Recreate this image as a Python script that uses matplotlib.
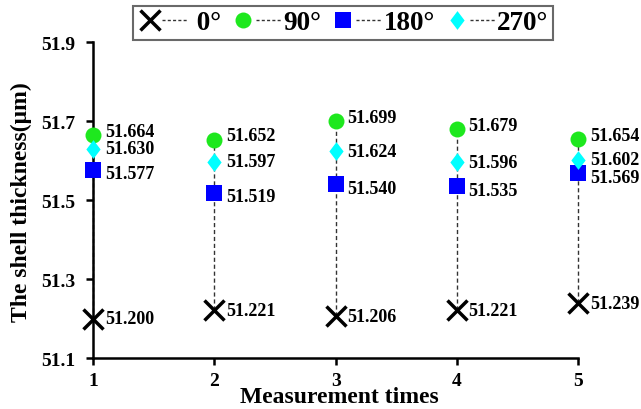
import matplotlib
matplotlib.use("Agg")
import matplotlib.pyplot as plt
from matplotlib.lines import Line2D
from matplotlib.legend_handler import HandlerTuple

# measurement data
times = [1, 2, 3, 4, 5]
deg0 = [51.200, 51.221, 51.206, 51.221, 51.239]
deg90 = [51.664, 51.652, 51.699, 51.679, 51.654]
deg180 = [51.577, 51.519, 51.540, 51.535, 51.569]
deg270 = [51.630, 51.597, 51.624, 51.596, 51.602]
yticks = [51.1, 51.3, 51.5, 51.7, 51.9]

plt.rcParams["font.family"] = ["Liberation Serif", "DejaVu Serif"]
plt.rcParams["font.weight"] = "bold"

fig = plt.figure(figsize=(6.41, 4.10), dpi=100)
ax = fig.add_axes([0.145, 0.124, 0.757, 0.771])

# drop lines between lowest and highest value
lows = [min(v) for v in zip(deg0, deg90, deg180, deg270)]
highs = [max(v) for v in zip(deg0, deg90, deg180, deg270)]
ax.vlines(times, lows, highs, colors="#333333", linestyles=(0, (3, 2)), lw=1,
          zorder=1, clip_on=False)

diamond = [(0, 1), (0.76, 0), (0, -1), (-0.76, 0), (0, 1)]
# (values, legend label, marker style, vertical nudge of the value labels in pt)
series = [
    (deg0, " 0°", dict(marker="x", color="black", ms=14, mew=2.5), 0),
    (deg90, "90°", dict(marker="o", color="#1ee81e", ms=11.5, mew=0), 3),
    (deg180, "180°", dict(marker="s", color="#0000ff", ms=11.5, mew=0), -3),
    (deg270, "270°", dict(marker=diamond, color="#00ffff", ms=13.5, mew=0), 0),
]

handles = []
labels = []
for vals, name, st, dy in series:
    ax.plot(times, vals, linestyle="none", zorder=3, clip_on=False, **st)
    for xv, yv in zip(times, vals):
        ax.annotate(f"{yv:.3f}", (xv, yv), xytext=(8.5, dy), textcoords="offset points",
                    ha="left", va="center", fontsize=13, fontweight="bold")
    h_mark = Line2D([], [], linestyle="none", **st)
    h_line = Line2D([], [], color="#333333", lw=1, linestyle=(0, (2.2, 1.6)))
    handles.append((h_mark, h_line))
    labels.append(name)

ax.set_xlim(1, 5)
ax.set_ylim(51.1, 51.9)
ax.set_xticks(times)
ax.set_yticks(yticks)
ax.set_yticklabels([f"{t:.1f}" for t in yticks])
ax.spines["top"].set_visible(False)
ax.spines["right"].set_visible(False)
for s in ["left", "bottom"]:
    ax.spines[s].set_linewidth(1.8)
ax.tick_params(direction="out", length=5, width=1.8, labelsize=14)
ax.tick_params(axis="y", pad=8)
ax.tick_params(axis="x", pad=5)
plt.setp(ax.get_xticklabels() + ax.get_yticklabels(), fontweight="bold")

ax.set_xlabel("Measurement times", fontsize=17, fontweight="bold")
ax.xaxis.set_label_coords(0.507, -0.12)
ax.xaxis.label.set_va("center")
ax.set_ylabel("The shell thickness(μm)", fontsize=17, fontweight="bold")
ax.yaxis.set_label_coords(-0.148, 0.497)
ax.yaxis.label.set_va("center")

leg = fig.legend(handles, labels, loc="upper center", bbox_to_anchor=(0.535, 0.982),
                 ncol=4, handler_map={tuple: HandlerTuple(ndivide=2, pad=0)},
                 handlelength=1.85, handletextpad=0.1, columnspacing=0.35,
                 frameon=True, fancybox=False, edgecolor="#444444",
                 prop={"size": 19.5, "weight": "bold"}, borderpad=0.15,
                 borderaxespad=0)
leg.get_frame().set_linewidth(1.5)

fig.savefig("out.png", dpi=100)
